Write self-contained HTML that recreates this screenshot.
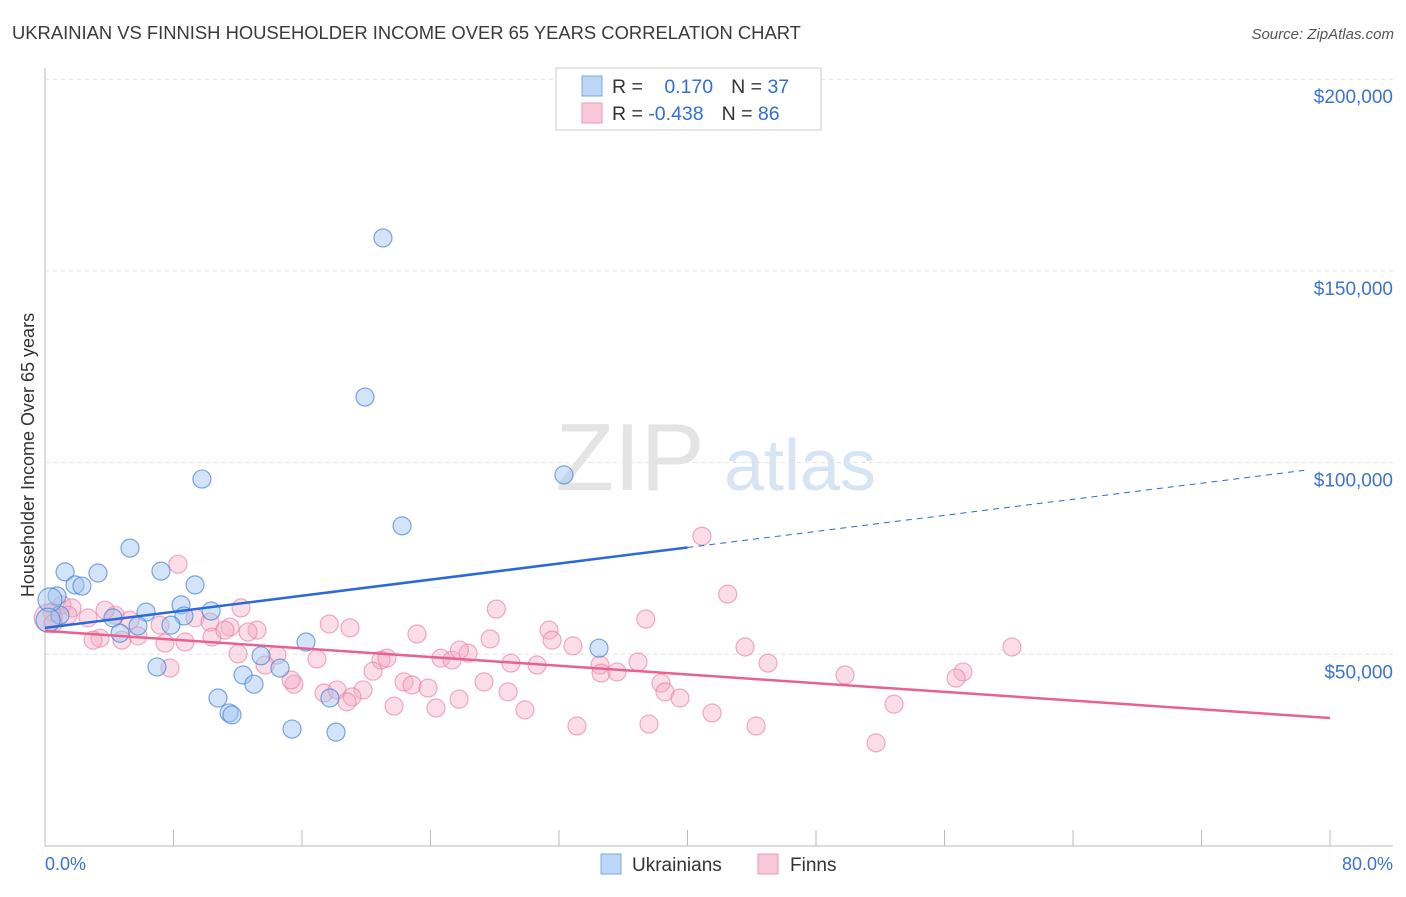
<!DOCTYPE html>
<html><head><meta charset="utf-8"><style>
body{margin:0;background:#fff;font-family:"Liberation Sans",sans-serif}
svg text{font-family:"Liberation Sans",sans-serif}
</style></head><body>
<svg id="c" width="1406" height="892">
<text x="12" y="39" font-size="18.4" fill="#3a3a3a">UKRAINIAN VS FINNISH HOUSEHOLDER INCOME OVER 65 YEARS CORRELATION CHART</text>
<text x="1394" y="39" font-size="15" fill="#555" text-anchor="end" font-style="italic">Source: ZipAtlas.com</text>
<text x="630" y="490" font-size="96" fill="#e4e4e4" font-family="Liberation Serif" text-anchor="middle">ZIP</text>
<text x="800" y="490" font-size="72" fill="#d6e4f4" text-anchor="middle">atlas</text>
<text transform="translate(34,455) rotate(-90)" font-size="18" fill="#333" text-anchor="middle">Householder Income Over 65 years</text>
<g id="grid"></g><g id="pts"></g><g id="lines"></g>
<g>
<rect x="556" y="68" width="265" height="62" fill="#fff" stroke="#ccc"/>
<rect x="582" y="76" width="20" height="20" fill="#bcd6f5" stroke="#7aaae6"/>
<rect x="582" y="103" width="20" height="20" fill="#f9c8d7" stroke="#ef9ab4"/>
<text x="612" y="93" font-size="19.5" fill="#333">R = <tspan fill="#2f6fd6" dx="16">0.170</tspan><tspan dx="18" fill="#333">N = </tspan><tspan fill="#2f6fd6">37</tspan></text>
<text x="612" y="120" font-size="19.5" fill="#333">R = <tspan fill="#2f6fd6">-0.438</tspan><tspan dx="18" fill="#333">N = </tspan><tspan fill="#2f6fd6">86</tspan></text>
</g>
<g>
<rect x="601" y="854" width="20" height="20" fill="#bcd6f5" stroke="#7aaae6"/>
<text x="632" y="871" font-size="19" fill="#333">Ukrainians</text>
<rect x="758" y="854" width="20" height="20" fill="#f9c8d7" stroke="#ef9ab4"/>
<text x="790" y="871" font-size="19" fill="#333">Finns</text>
</g>
<text x="45" y="870" font-size="18" fill="#3b73d0">0.0%</text>
<text x="1393" y="870" font-size="18" fill="#3b73d0" text-anchor="end">80.0%</text>
</svg>
<script>
const yTicks=[50000,100000,150000,200000];
const yTickLabels=["$50,000","$100,000","$150,000","$200,000"];
const blueX=[21.04,19.92,9.77,32.31,22.23,5.29,1.25,3.30,7.22,1.87,2.30,9.34,0.75,8.47,6.29,10.34,4.23,8.65,0.93,7.84,5.79,4.67,16.25,34.49,13.45,6.97,14.63,12.33,13.01,10.77,17.74,11.46,11.64,15.38,18.12,0.31,0.19];
const blueY=[158.6,117.1,95.7,96.8,83.5,77.7,71.5,71.2,71.7,68.1,67.8,68.1,65.2,62.9,61.0,61.3,59.5,60.0,60.2,57.6,57.4,55.5,53.2,51.6,49.6,46.7,46.4,44.6,42.2,38.6,38.6,34.7,34.2,30.5,29.7,64.2,58.9];
const pinkX=[40.9,8.28,42.5,28.1,12.2,37.4,17.7,1.06,1.68,0.44,1.43,2.68,4.36,5.29,9.34,10.27,7.16,11.52,13.2,12.64,18.99,23.16,31.38,31.57,32.87,27.71,43.58,60.2,3.42,2.99,4.79,7.47,8.72,10.4,5.79,11.2,14.44,12.02,16.93,20.92,21.29,24.65,26.34,25.34,29.01,30.63,34.55,36.92,45.01,7.78,13.7,20.42,22.35,22.85,23.85,15.5,27.33,34.62,35.61,38.35,49.81,57.15,56.72,15.32,17.37,18.18,19.8,19.11,28.83,38.6,39.53,25.78,18.8,21.73,24.34,29.88,52.86,41.53,33.12,37.6,44.27,51.74,0.2,25.8,3.74,0.5];
const pinkY=[80.8,73.5,65.7,61.8,62.1,59.2,57.9,62.9,62.1,61.0,60.2,59.5,60.2,58.9,59.5,58.4,57.6,57.1,56.3,55.8,56.9,55.3,56.3,53.7,52.2,54.0,51.9,51.9,54.2,53.7,53.7,52.9,53.2,54.5,54.8,56.3,49.8,50.1,48.8,48.5,49.0,49.0,50.3,48.5,47.7,47.2,47.2,48.0,47.7,46.4,47.2,45.6,42.8,42.0,41.2,42.2,42.8,45.1,45.4,42.5,44.6,45.4,43.8,43.3,39.9,40.7,40.7,38.9,40.2,40.2,38.6,38.3,37.6,36.5,36.0,35.5,37.0,34.7,31.3,31.8,31.3,26.9,59.5,51.1,61.5,58.0];
const blueTrend=[56.9,0.524]; // intercept (k$), slope per %
const pinkTrend=[56.1,-0.284];
const NS="http://www.w3.org/2000/svg";
const X=v=>45+v/80*1285, Y=k=>846-k/50*191.7;
function mk(t,a,p){const e=document.createElementNS(NS,t);for(const k in a)e.setAttribute(k,a[k]);p.appendChild(e);return e;}
const g=document.getElementById('grid');
mk('line',{x1:45,y1:846,x2:1393,y2:846,stroke:'#bbb'},g);
mk('line',{x1:45,y1:68,x2:45,y2:846,stroke:'#bbb'},g);
for(let i=0;i<=10;i++){const t=mk('line',{x1:X(i*8),y1:830,x2:X(i*8),y2:846,stroke:'#bbb'},g);

}
yTicks.forEach((v,i)=>{const y=Y(v/1000);
const l=mk('line',{x1:45,y1:y,x2:1393,y2:y,stroke:'#e2e2e2','stroke-dasharray':'4,4'},g);


const t=mk('text',{x:1393,y:y+24,'font-size':19,fill:'#3b73d0','text-anchor':'end'},g);t.textContent=yTickLabels[i];

});
const p=document.getElementById('pts');
pinkX.forEach((x,i)=>{const c=mk('circle',{cx:X(x),cy:Y(pinkY[i]),r:i==82?14:9,fill:'rgba(246,170,195,0.4)',stroke:'rgba(232,120,155,0.6)','stroke-width':1.2},p);

});
blueX.forEach((x,i)=>{const c=mk('circle',{cx:X(x),cy:Y(blueY[i]),r:i>=35?12:9,fill:'rgba(160,195,240,0.45)',stroke:'rgba(70,130,215,0.7)','stroke-width':1.2},p);

});
const L=document.getElementById('lines');
const bl=mk('line',{x1:X(0),y1:Y(blueTrend[0]),x2:X(40),y2:Y(blueTrend[0]+40*blueTrend[1]),stroke:'#2b6ad6','stroke-width':2.5},L);


const bd=mk('line',{x1:X(40),y1:Y(blueTrend[0]+40*blueTrend[1]),x2:X(78.4),y2:Y(blueTrend[0]+78.4*blueTrend[1]),stroke:'#2b6ad6','stroke-width':1,'stroke-dasharray':'6,5'},L);


const pl=mk('line',{x1:X(0),y1:Y(pinkTrend[0]),x2:X(80),y2:Y(pinkTrend[0]+80*pinkTrend[1]),stroke:'#e8628f','stroke-width':2.5},L);


</script>
</body></html>
